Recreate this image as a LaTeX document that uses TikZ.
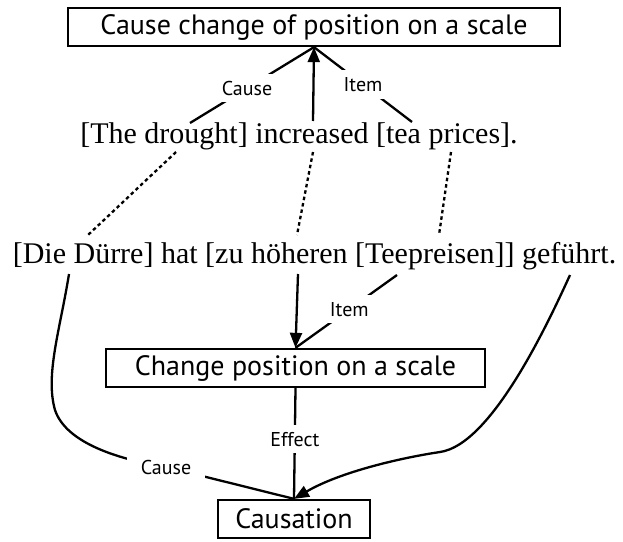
\documentclass[tikz,border=0pt]{standalone}
\usepackage{fontspec}
\setmainfont{Liberation Serif}
\newfontfamily\labelfont{PT Sans}
\usetikzlibrary{arrows.meta}

\tikzset{
  framebox/.style={draw, line width=2.3pt, rectangle, inner sep=0pt,
    minimum height=38pt, font=\labelfont\fontsize{28}{32}\selectfont},
  sentence/.style={inner sep=0pt, anchor=base, font=\fontsize{30}{35}\selectfont},
  link/.style={line width=2.3pt},
  arrowlink/.style={line width=2.3pt, -{Triangle[length=15pt,width=12pt]}},
  corresp/.style={line width=2.3pt, dash pattern=on 3.5pt off 3pt},
  rolelabel/.style={fill=white, inner sep=7pt, font=\labelfont\fontsize{20}{23}\selectfont},
}

\begin{document}
\begin{tikzpicture}[x=1pt, y=-1pt]
  \useasboundingbox (0,0) rectangle (623,541);

  % frames
  \node[framebox, minimum width=492pt] (top) at (314,27) {Cause change of position on a scale};
  \node[framebox, minimum width=379pt] (change) at (295.5,368) {Change position on a scale};
  \node[framebox, minimum width=152pt] (caus) at (294,519) {Causation};

  % sentences
  \node[sentence] (en) at (299,143) {[The drought] increased [tea prices].};
  \node[sentence] (de) at (314.5,263) {[Die Dürre] hat [zu höheren [Teepreisen]] geführt.};

  % attachment points on the English sentence
  \coordinate (en-cause) at (190,123);
  \coordinate (en-verb) at (313,121);
  \coordinate (en-item) at (412,122);
  \coordinate (en-cause-b) at (176,152);
  \coordinate (en-verb-b) at (313,152);
  \coordinate (en-item-b) at (451,152);

  % attachment points on the German sentence
  \coordinate (de-cause-t) at (88,235);
  \coordinate (de-verb-t) at (297,235);
  \coordinate (de-item-t) at (439,235);
  \coordinate (de-cause) at (69,274);
  \coordinate (de-verb) at (298,274);
  \coordinate (de-item) at (397,275);
  \coordinate (de-pred) at (570,275);

  % English frame
  \draw[link] (en-cause) -- node[rolelabel, pos=0.46] {Cause} (top.south);
  \draw[link] (en-item) -- node[rolelabel, pos=0.5] {Item} (top.south);
  \draw[arrowlink] (en-verb) -- (top.south);

  % alignments
  \draw[corresp] (en-cause-b) -- (de-cause-t);
  \draw[corresp] (en-verb-b) -- (de-verb-t);
  \draw[corresp] (en-item-b) -- (de-item-t);

  % German frames
  \draw[arrowlink] (de-verb) -- (change.north);
  \draw[link] (de-item) -- node[rolelabel, pos=0.47] {Item} (change.north);
  \draw[link] (change.south) -- node[rolelabel, pos=0.46] {Effect} (caus.north);
  \draw[link] (de-cause) .. controls (60,330) and (45,375) .. (55,410)
    .. controls (65,440) and (110,458) .. (166,467)
    node[rolelabel, inner xsep=14pt] {Cause} -- (caus.north);
  \draw[arrowlink] (de-pred) .. controls (545,330) and (490,445) .. (440,452)
    .. controls (400,458) and (340,472) .. (caus.north);
\end{tikzpicture}
\end{document}
